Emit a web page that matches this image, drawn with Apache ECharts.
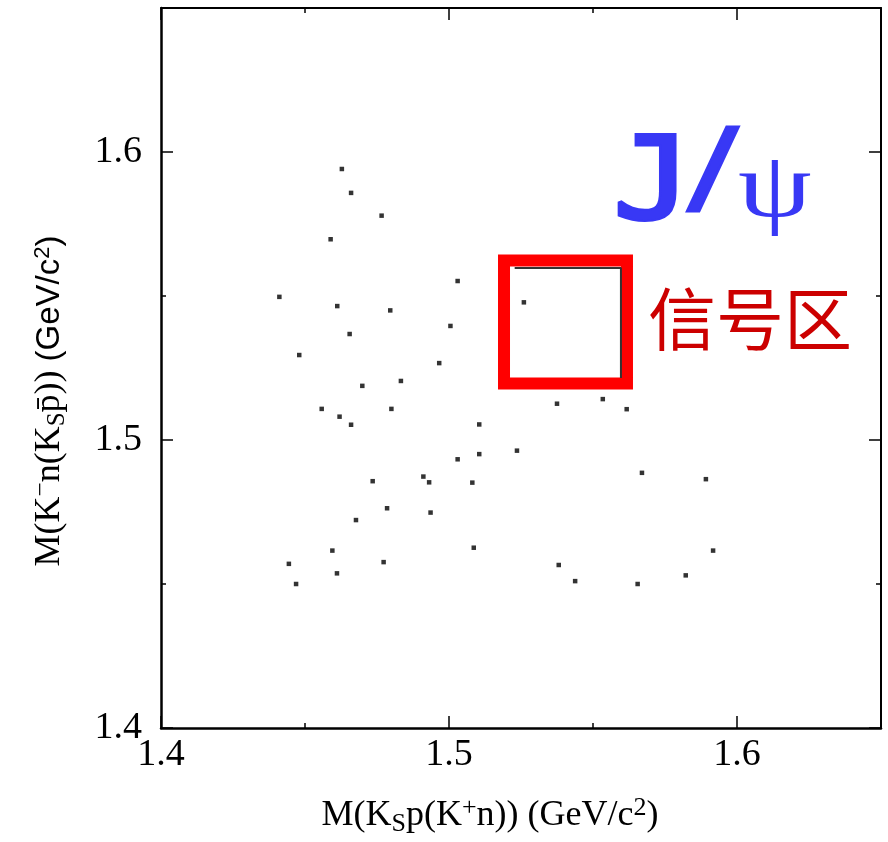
<!DOCTYPE html>
<html>
<head>
<meta charset="utf-8">
<script src="https://cdn.jsdelivr.net/npm/echarts@6/dist/echarts.min.js"></script>
<style>
  html, body { margin: 0; padding: 0; background: #fff; overflow: hidden; }
  #chart { width: 888px; height: 842px; }
</style>
</head>
<body>
<div id="chart"></div>
<script>
// Event positions: M(K_S p (K+ n)) vs M(K- n (K_S p)), GeV/c^2
const xVals = [
  1.4628, 1.4660, 1.4766, 1.4589, 1.5030, 1.4411, 1.4612, 1.4796, 1.5005, 1.4655,
  1.4480, 1.4966, 1.4833, 1.4699, 1.4558, 1.4800, 1.4620, 1.4660, 1.5105, 1.5030,
  1.5105, 1.4735, 1.4911, 1.4931, 1.5081, 1.4785, 1.4936, 1.4677, 1.5086, 1.4595,
  1.4444, 1.4773, 1.4611, 1.4469, 1.5260, 1.5375, 1.5534, 1.5617, 1.5236, 1.5670,
  1.5892, 1.5917, 1.5381, 1.5438, 1.5655, 1.5822
];
const yVals = [
  1.5941, 1.5858, 1.5779, 1.5697, 1.5552, 1.5497, 1.5465, 1.5450, 1.5396, 1.5368,
  1.5295, 1.5267, 1.5205, 1.5188, 1.5108, 1.5108, 1.5081, 1.5053, 1.5054, 1.4933,
  1.4951, 1.4857, 1.4873, 1.4853, 1.4852, 1.4763, 1.4748, 1.4722, 1.4626, 1.4616,
  1.4570, 1.4576, 1.4537, 1.4500, 1.5478, 1.5126, 1.5142, 1.5107, 1.4963, 1.4886,
  1.4864, 1.4616, 1.4566, 1.4510, 1.4500, 1.4530
];

// Axis settings
const axisMin = 1.4;
const axisMax = 1.65;
const tickStep = 0.1;
const tickLabels = ['1.4', '1.5', '1.6'];

// Signal region (highlighted) and its inner outline
const signalX = [1.5191, 1.5618];
const signalY = [1.5196, 1.5623];
const innerX = [1.5228, 1.5597];
const innerY = [1.5215, 1.5597];

const points = xVals.map((x, i) => [x, yVals[i]]);

const serif = '"Liberation Serif", "Times New Roman", serif';
const sans = '"Liberation Sans", Arial, sans-serif';
const mono = '"DejaVu Sans Mono", monospace';
const blue = '#3838f5';

function fmt(v) {
  const s = v.toFixed(1);
  return tickLabels.includes(s) ? s : '';
}

const mainAxisLine = { show: true, lineStyle: { color: '#000', width: 2.5 } };
const tickCommon = { show: true, inside: true, length: 12, lineStyle: { color: '#000', width: 1.5 } };
const minorCommon = { show: true, splitNumber: 2, length: 5, lineStyle: { color: '#000', width: 1.5 } };

const chart = echarts.init(document.getElementById('chart'), null, { renderer: 'canvas' });

chart.setOption({
  animation: false,
  backgroundColor: '#fff',
  grid: { left: 161, top: 8, width: 720, height: 725, containLabel: false },
  xAxis: [
    {
      type: 'value', min: axisMin, max: axisMax, interval: tickStep,
      position: 'bottom',
      axisLine: mainAxisLine,
      axisTick: tickCommon,
      minorTick: minorCommon,
      splitLine: { show: false },
      axisLabel: {
        formatter: fmt, showMaxLabel: false, margin: 8,
        fontFamily: serif, fontSize: 38, color: '#000'
      },
      name: '{t|M(K}{sub|S}{t|p(K}{sup|+}{t|n)) (GeV/c}{sup|2}{t|)}',
      nameLocation: 'middle', nameGap: 67,
      nameTextStyle: {
        padding: [0, 62, 0, 0],
        rich: {
          t: { fontFamily: serif, fontSize: 36, color: '#000' },
          sub: { fontFamily: serif, fontSize: 26, color: '#000', padding: [16, 0, 0, 0] },
          sup: { fontFamily: serif, fontSize: 26, color: '#000', padding: [0, 0, 16, 0] }
        }
      }
    },
    {
      type: 'value', min: axisMin, max: axisMax, interval: tickStep,
      position: 'top',
      axisLine: { show: true, lineStyle: { color: '#000', width: 2 } },
      axisTick: tickCommon,
      minorTick: minorCommon,
      splitLine: { show: false },
      axisLabel: { show: false }
    }
  ],
  yAxis: [
    {
      type: 'value', min: axisMin, max: axisMax, interval: tickStep,
      position: 'left',
      axisLine: mainAxisLine,
      axisTick: tickCommon,
      minorTick: minorCommon,
      splitLine: { show: false },
      axisLabel: {
        formatter: fmt, showMaxLabel: false, margin: 19,
        fontFamily: serif, fontSize: 38, color: '#000'
      },
      name: '{t|M(K}{sup|−}{t|n(K}{sub|S}{t|p\u0304)) }{s|(GeV/c}{ssup|2}{s|)}',
      nameLocation: 'middle', nameGap: 91, nameRotate: 90,
      nameTextStyle: {
        padding: [0, 66, 0, 0],
        rich: {
          t: { fontFamily: serif, fontSize: 36, color: '#000' },
          sub: { fontFamily: serif, fontSize: 25, color: '#000', padding: [16, 0, 0, 0] },
          sup: { fontFamily: serif, fontSize: 25, color: '#000', padding: [0, 0, 16, 0] },
          s: { fontFamily: sans, fontSize: 33, color: '#000' },
          ssup: { fontFamily: sans, fontSize: 22, color: '#000', padding: [0, 0, 14, 0] }
        }
      }
    },
    {
      type: 'value', min: axisMin, max: axisMax, interval: tickStep,
      position: 'right',
      axisLine: { show: true, lineStyle: { color: '#000', width: 2 } },
      axisTick: tickCommon,
      minorTick: minorCommon,
      splitLine: { show: false },
      axisLabel: { show: false }
    }
  ],
  series: [
    {
      type: 'line',
      xAxisIndex: 0, yAxisIndex: 0,
      data: [[innerX[0], innerY[1]], [innerX[1], innerY[1]], [innerX[1], innerY[0]]],
      showSymbol: false,
      lineStyle: { color: '#333', width: 2 },
      silent: true,
      z: 3
    },
    {
      type: 'scatter',
      xAxisIndex: 0, yAxisIndex: 0,
      data: points,
      symbol: 'rect',
      symbolSize: 4.5,
      itemStyle: { color: '#000' },
      z: 4,
      markArea: {
        silent: true,
        itemStyle: { color: 'rgba(0,0,0,0)', borderColor: '#ff0000', borderWidth: 12 },
        data: [[{ coord: [signalX[0], signalY[0]] }, { coord: [signalX[1], signalY[1]] }]]
      }
    }
  ],
  graphic: [
    {
      type: 'text', x: 613, y: 131, scaleX: 1.15,
      style: {
        text: 'J', fontFamily: mono, fontSize: 114,
        fill: blue, stroke: blue, lineWidth: 4, lineJoin: 'round',
        verticalAlign: 'top'
      }
    },
    {
      type: 'text', x: 684, y: 125,
      style: {
        text: '/', fontFamily: mono, fontSize: 100,
        fill: blue, stroke: blue, lineWidth: 5, lineJoin: 'round',
        verticalAlign: 'top'
      }
    },
    {
      type: 'text', x: 738, y: 144, scaleX: 1.25,
      style: {
        text: 'ψ', fontFamily: serif, fontSize: 94,
        fill: blue, verticalAlign: 'top'
      }
    },
    {
      type: 'text', left: 648, top: 285,
      style: {
        text: '信号区',
        fontFamily: '"Noto Sans CJK SC", sans-serif',
        fontSize: 68,
        fill: '#cc0000'
      }
    }
  ]
});
</script>
</body>
</html>
